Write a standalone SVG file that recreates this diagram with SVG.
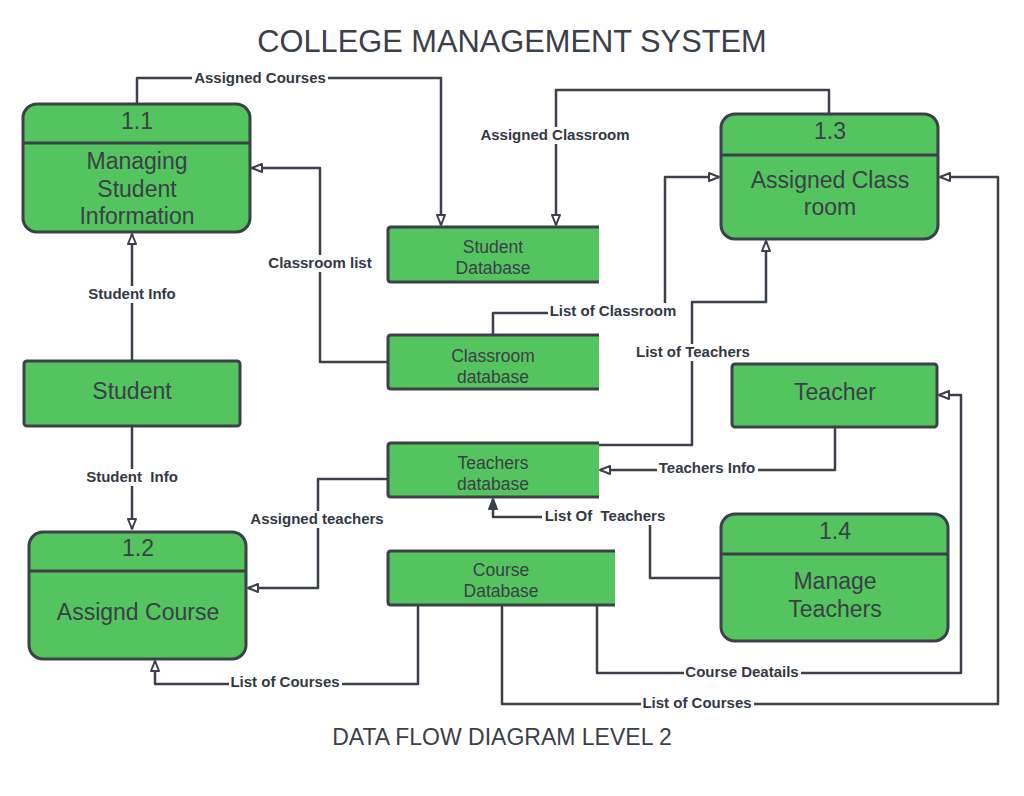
<svg xmlns="http://www.w3.org/2000/svg" width="1024" height="796" viewBox="0 0 1024 796">
<style>
.shape{fill:#54c45e;stroke:#3c404b;stroke-width:3}
.store{fill:#54c45e;stroke:none}
.edge{fill:none;stroke:#3c404b;stroke-width:3;stroke-linejoin:round}
.div{stroke:#3c404b;stroke-width:3}
.con{fill:none;stroke:#3c404b;stroke-width:2.5;stroke-linejoin:round}
.pt{font-family:"Liberation Sans",Arial,sans-serif;font-size:23px;fill:#3b3f4a;text-anchor:middle}
.et{font-family:"Liberation Sans",Arial,sans-serif;font-size:23px;fill:#3b3f4a;text-anchor:middle}
.st{font-family:"Liberation Sans",Arial,sans-serif;font-size:17.5px;fill:#3b3f4a;text-anchor:middle}
.lb{font-family:"Liberation Sans",Arial,sans-serif;font-size:15px;font-weight:bold;fill:#333844;text-anchor:middle}
.bg{fill:#ffffff}
.title{font-family:"Liberation Sans",Arial,sans-serif;fill:#3b3f4a;text-anchor:middle}
</style>
<defs>
<marker id="arr" viewBox="0 0 12 10" refX="11" refY="5" markerWidth="12" markerHeight="10" markerUnits="userSpaceOnUse" orient="auto">
<path d="M1,1 L11,5 L1,9 z" fill="#ffffff" stroke="#3c404b" stroke-width="2" stroke-linejoin="round"/>
</marker>
<marker id="arrf" viewBox="0 0 12 10" refX="11" refY="5" markerWidth="12" markerHeight="10" markerUnits="userSpaceOnUse" orient="auto">
<path d="M1,1 L11,5 L1,9 z" fill="#3c404b" stroke="#3c404b" stroke-width="2" stroke-linejoin="round"/>
</marker>
</defs>
<rect width="1024" height="796" fill="#ffffff"/>
<text class="title" x="512" y="52" font-size="30.8">COLLEGE MANAGEMENT SYSTEM</text>
<text class="title" x="502" y="745" font-size="23">DATA FLOW DIAGRAM LEVEL 2</text>

<g id="connectors">
<path class="con" d="M137,103 V78 H441 V225" marker-end="url(#arr)"/>
<path class="con" d="M829,113 V90 H556 V225" marker-end="url(#arr)"/>
<path class="con" d="M388,362 H320 V168 H252" marker-end="url(#arr)"/>
<path class="con" d="M132,360 V234" marker-end="url(#arr)"/>
<path class="con" d="M132,427 V529" marker-end="url(#arr)"/>
<path class="con" d="M493,335 V313 H665 V177 H719" marker-end="url(#arr)"/>
<path class="con" d="M598,445 H692 V302 H766 V241" marker-end="url(#arr)"/>
<path class="con" d="M835,428 V470 H600" marker-end="url(#arr)"/>
<path class="con" d="M720,578 H650 V517 H493 V499" marker-end="url(#arrf)"/>
<path class="con" d="M388,479 H318 V588 H248" marker-end="url(#arr)"/>
<path class="con" d="M418,606 V684 H155 V661" marker-end="url(#arr)"/>
<path class="con" d="M597,606 V673 H961 V395 H939" marker-end="url(#arr)"/>
<path class="con" d="M502,606 V704 H998 V177 H940" marker-end="url(#arr)"/>

<rect class="bg" x="192" y="70" width="136" height="17"/>
<text class="lb" x="260" y="83">Assigned Courses</text>
<rect class="bg" x="479" y="127" width="153" height="17"/>
<text class="lb" x="555" y="140">Assigned Classroom</text>
<rect class="bg" x="266" y="255" width="108" height="17"/>
<text class="lb" x="320" y="268">Classroom list</text>
<rect class="bg" x="87" y="286" width="90" height="17"/>
<text class="lb" x="132" y="299">Student Info</text>
<rect class="bg" x="84" y="469" width="96" height="17"/>
<text class="lb" x="132" y="482" xml:space="preserve">Student  Info</text>
<rect class="bg" x="548" y="303" width="131" height="17"/>
<text class="lb" x="613" y="316">List of Classroom</text>
<rect class="bg" x="635" y="344" width="117" height="17"/>
<text class="lb" x="693" y="357">List of Teachers</text>
<rect class="bg" x="657" y="460" width="101" height="17"/>
<text class="lb" x="707" y="473">Teachers Info</text>
<rect class="bg" x="542" y="508" width="127" height="17"/>
<text class="lb" x="605" y="521" xml:space="preserve">List Of  Teachers</text>
<rect class="bg" x="249" y="511" width="137" height="17"/>
<text class="lb" x="317" y="524">Assigned teachers</text>
<rect class="bg" x="229" y="674" width="113" height="17"/>
<text class="lb" x="285" y="687">List of Courses</text>
<rect class="bg" x="684" y="664" width="117" height="17"/>
<text class="lb" x="742" y="677">Course Deatails</text>
<rect class="bg" x="641" y="695" width="113" height="17"/>
<text class="lb" x="697" y="708">List of Courses</text>
</g>

<g id="p11">
<rect class="shape" x="23" y="104" width="227" height="128" rx="14"/>
<line class="div" x1="23" y1="143" x2="250" y2="143"/>
<text class="pt" x="137" y="129">1.1</text>
<text class="pt" x="137" y="169">Managing</text>
<text class="pt" x="137" y="197">Student</text>
<text class="pt" x="137" y="224">Information</text>
</g>

<g id="p12">
<rect class="shape" x="29" y="532" width="217" height="127" rx="14"/>
<line class="div" x1="29" y1="571" x2="246" y2="571"/>
<text class="pt" x="138" y="556">1.2</text>
<text class="pt" x="138" y="620">Assignd Course</text>
</g>

<g id="p13">
<rect class="shape" x="721" y="114" width="217" height="125" rx="14"/>
<line class="div" x1="721" y1="155" x2="938" y2="155"/>
<text class="pt" x="830" y="139">1.3</text>
<text class="pt" x="830" y="188">Assigned Class</text>
<text class="pt" x="830" y="215">room</text>
</g>

<g id="p14">
<rect class="shape" x="721" y="514" width="227" height="127" rx="14"/>
<line class="div" x1="721" y1="554" x2="948" y2="554"/>
<text class="pt" x="835" y="539">1.4</text>
<text class="pt" x="835" y="589">Manage</text>
<text class="pt" x="835" y="617">Teachers</text>
</g>

<g id="student">
<rect class="shape" x="24" y="361" width="216" height="65" rx="3"/>
<text class="et" x="132" y="399">Student</text>
</g>

<g id="teacher">
<rect class="shape" x="732" y="364" width="205" height="63" rx="3"/>
<text class="et" x="835" y="400">Teacher</text>
</g>

<g id="studentdb">
<rect class="store" x="388" y="227" width="211" height="55"/>
<path class="edge" d="M599,227 H391 Q388,227 388,230 V279 Q388,282 391,282 H599"/>
<text class="st" x="493" y="253">Student</text>
<text class="st" x="493" y="274">Database</text>
</g>

<g id="classroomdb">
<rect class="store" x="388" y="335" width="211" height="54"/>
<path class="edge" d="M599,335 H391 Q388,335 388,338 V386 Q388,389 391,389 H599"/>
<text class="st" x="493" y="362">Classroom</text>
<text class="st" x="493" y="383">database</text>
</g>

<g id="teachersdb">
<rect class="store" x="388" y="443" width="211" height="54"/>
<path class="edge" d="M599,443 H391 Q388,443 388,446 V494 Q388,497 391,497 H599"/>
<text class="st" x="493" y="469">Teachers</text>
<text class="st" x="493" y="490">database</text>
</g>

<g id="coursedb">
<rect class="store" x="388" y="551" width="227" height="54"/>
<path class="edge" d="M615,551 H391 Q388,551 388,554 V602 Q388,605 391,605 H615"/>
<text class="st" x="501" y="576">Course</text>
<text class="st" x="501" y="597">Database</text>
</g>
</svg>
